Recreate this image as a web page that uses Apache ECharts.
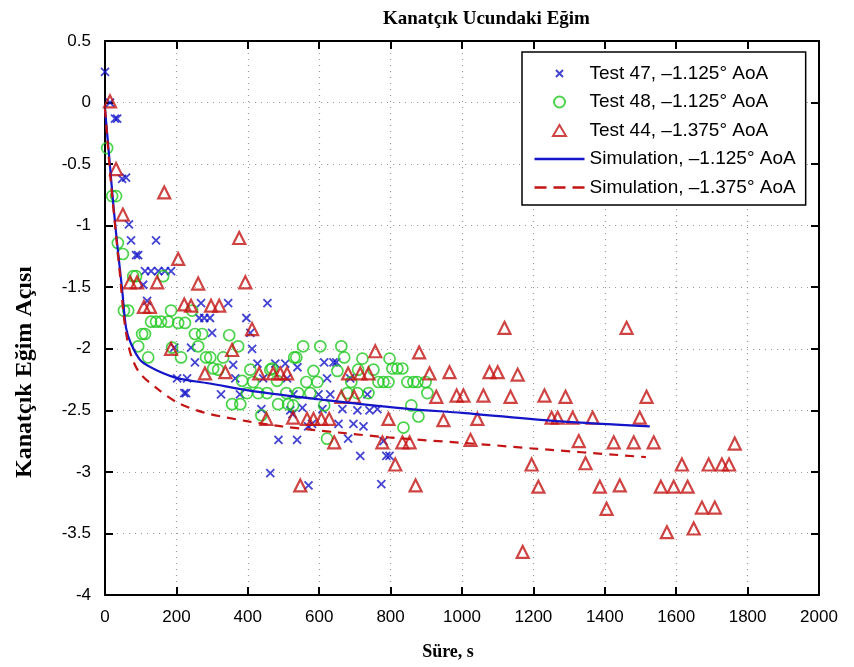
<!DOCTYPE html>
<html>
<head>
<meta charset="utf-8">
<script src="https://cdn.jsdelivr.net/npm/echarts@6/dist/echarts.min.js"></script>
<style>
  html, body { margin: 0; padding: 0; background: #fff; }
  #chart { width: 854px; height: 667px; }
</style>
</head>
<body>
<div id="chart"></div>
<script>
// Test 47, -1.125 AoA (blue crosses)
var test47 = [[0,0.25],[14,0],[28,-0.13],[34,-0.13],[48,-0.62],[59,-0.61],[67,-0.99],[73,-1.12],[143,-1.12],[87,-1.24],[93,-1.24],
  [112,-1.37],[129,-1.37],[149,-1.37],[168,-1.37],[185,-1.37],[107,-1.48],[118,-1.61],[269,-1.63],[345,-1.63],[455,-1.63],
  [264,-1.75],[278,-1.75],[294,-1.75],[396,-1.75],[300,-1.87],[407,-1.87],[194,-1.99],[241,-1.99],[412,-2.0],[252,-2.11],
  [359,-2.13],[427,-2.12],[477,-2.12],[505,-2.12],[202,-2.24],[230,-2.24],[365,-2.24],[222,-2.36],[227,-2.36],[325,-2.37],
  [378,-2.37],[438,-2.49],[525,-2.53],[614,-2.11],[640,-2.11],[648,-2.11],[539,-2.15],[622,-2.24],[443,-2.24],[510,-2.24],
  [687,-2.24],[598,-2.37],[631,-2.37],[528,-2.37],[735,-2.37],[553,-2.48],[609,-2.49],[665,-2.49],[707,-2.5],[741,-2.5],
  [763,-2.49],[519,-2.5],[580,-2.61],[654,-2.61],[696,-2.61],[724,-2.63],[569,-2.63],[486,-2.74],[538,-2.74],[681,-2.73],
  [780,-2.75],[715,-2.87],[788,-2.87],[797,-2.87],[463,-3.01],[570,-3.11],[774,-3.1]];

// Test 48, -1.125 AoA (green circles)
var test48 = [[6,-0.37],[20,-0.76],[31,-0.76],[36,-1.14],[50,-1.23],[79,-1.41],[87,-1.41],[163,-1.41],[53,-1.69],[65,-1.69],
  [185,-1.69],[244,-1.69],[129,-1.78],[143,-1.78],[157,-1.78],[177,-1.78],[205,-1.79],[224,-1.79],[104,-1.88],[112,-1.88],
  [252,-1.88],[272,-1.88],[348,-1.89],[93,-1.98],[188,-1.99],[261,-1.98],[373,-1.98],[121,-2.07],[213,-2.07],[283,-2.07],
  [295,-2.07],[331,-2.07],[303,-2.16],[317,-2.17],[407,-2.17],[468,-2.16],[384,-2.26],[415,-2.27],[482,-2.26],[398,-2.36],
  [429,-2.36],[454,-2.36],[356,-2.45],[379,-2.45],[485,-2.45],[513,-2.45],[438,-2.54],[530,-2.07],[555,-1.98],[603,-1.98],
  [662,-1.98],[536,-2.07],[670,-2.07],[721,-2.08],[797,-2.08],[463,-2.17],[584,-2.18],[651,-2.18],[709,-2.17],[752,-2.17],
  [805,-2.16],[819,-2.16],[833,-2.16],[564,-2.27],[595,-2.27],[690,-2.27],[766,-2.27],[780,-2.27],[794,-2.27],[847,-2.27],
  [864,-2.27],[875,-2.27],[898,-2.27],[508,-2.36],[541,-2.36],[575,-2.36],[679,-2.36],[707,-2.36],[738,-2.36],[903,-2.36],
  [527,-2.46],[614,-2.46],[858,-2.46],[878,-2.55],[836,-2.64],[622,-2.73]];

// Test 44, -1.375 AoA (red triangles)
var test44 = [[14,0.01],[31,-0.54],[50,-0.91],[166,-0.73],[70,-1.46],[90,-1.46],[146,-1.46],[205,-1.27],[261,-1.47],[376,-1.10],
  [393,-1.46],[109,-1.66],[126,-1.66],[222,-1.64],[241,-1.65],[297,-1.65],[320,-1.65],[412,-1.84],[185,-2.0],[356,-2.01],
  [280,-2.2],[337,-2.19],[432,-2.2],[471,-2.2],[491,-2.2],[510,-2.2],[681,-2.2],[715,-2.2],[738,-2.2],[757,-2.02],[880,-2.03],
  [662,-2.39],[698,-2.39],[452,-2.57],[527,-2.56],[566,-2.57],[584,-2.57],[606,-2.57],[628,-2.57],[794,-2.57],[642,-2.76],
  [777,-2.76],[833,-2.76],[853,-2.76],[813,-2.94],[547,-3.11],[870,-3.11],[1119,-1.83],[909,-2.2],[965,-2.19],[1077,-2.19],
  [1100,-2.19],[1156,-2.21],[928,-2.39],[985,-2.38],[1004,-2.38],[1060,-2.38],[1136,-2.39],[1231,-2.38],[948,-2.58],
  [1043,-2.57],[1251,-2.56],[1268,-2.56],[1024,-2.74],[1195,-2.94],[1214,-3.12],[1170,-3.65],[1461,-1.83],[1290,-2.39],
  [1517,-2.39],[1310,-2.56],[1366,-2.56],[1498,-2.56],[1327,-2.75],[1425,-2.76],[1481,-2.76],[1537,-2.76],[1764,-2.77],
  [1346,-2.93],[1616,-2.94],[1691,-2.94],[1728,-2.94],[1748,-2.94],[1386,-3.12],[1442,-3.11],[1557,-3.12],[1593,-3.12],
  [1632,-3.12],[1405,-3.30],[1672,-3.29],[1708,-3.29],[1574,-3.49],[1649,-3.46]];

// simulation curves
var sim1125 = [[0,-0.05],[12,-0.45],[24,-0.85],[36,-1.2],[48,-1.52],[59,-1.83],[73,-1.96],[101,-2.1],[149,-2.18],[205,-2.24],
  [289,-2.28],[429,-2.35],[600,-2.41],[856,-2.49],[1000,-2.52],[1276,-2.59],[1526,-2.63]];
var sim1375 = [[0,-0.05],[15,-0.6],[30,-1.05],[42,-1.4],[52,-1.72],[62,-1.92],[75,-2.07],[98,-2.2],[149,-2.33],[205,-2.44],
  [280,-2.52],[401,-2.59],[496,-2.63],[654,-2.68],[794,-2.72],[1074,-2.78],[1198,-2.81],[1515,-2.88]];

var names = ['Test 47, \u20131.125\u00b0 AoA', 'Test 48, \u20131.125\u00b0 AoA', 'Test 44, \u20131.375\u00b0 AoA',
  'Simulation, \u20131.125\u00b0 AoA', 'Simulation, \u20131.375\u00b0 AoA'];

var BLUE = '#1414c8', GREEN = '#1ec81e', RED = '#c41414';
var crossPath = 'path://M0,0L10,10M10,0L0,10';
var serif = '"Liberation Serif", "DejaVu Serif", serif';
var sans = '"Liberation Sans", Arial, sans-serif';

// legend icons: 50x12 boxes, marker centred (tiny corner dots fix the bbox)
var box = 'M0,0L0.001,0M49.999,12L50,12';
var iconCross = 'path://' + box + 'M21.5,2.5L28.5,9.5M28.5,2.5L21.5,9.5';
var iconCircle = 'path://' + box + 'M19.5,6A5.5,5.5 0 1,1 30.5,6A5.5,5.5 0 1,1 19.5,6Z';
var iconTri = 'path://' + box + 'M25,0.5L31.5,11.5L18.5,11.5Z';
var iconLine = 'path://' + box + 'M0,6L50,6';

var chart = echarts.init(document.getElementById('chart'), null, { renderer: 'canvas' });

var tickStyle = { show: true, inside: true, length: 8, lineStyle: { color: '#000', width: 2 } };
var gridLine = { show: true, lineStyle: { color: '#9a9a9a', type: [1, 5], width: 1.2 } };
var frameLine = { show: true, onZero: false, lineStyle: { color: '#000', width: 2 } };

var option = {
  backgroundColor: '#fff',
  animation: false,
  title: {
    text: 'Kanatçık Ucundaki Eğim',
    left: 378, top: 5,
    textStyle: { fontFamily: serif, fontWeight: 'bold', fontSize: 19, color: '#000' }
  },
  // axis titles, placed as in the original figure
  graphic: [
    {
      type: 'text', x: 25, y: 372, rotation: Math.PI / 2,
      style: { text: 'Kanatçık Eğim Açısı', fill: '#000', font: 'bold 24px ' + serif, align: 'center', verticalAlign: 'middle' }
    },
    {
      type: 'text', x: 448, y: 652,
      style: { text: 'Süre, s', fill: '#000', font: 'bold 18px ' + serif, align: 'center', verticalAlign: 'middle' }
    }
  ],
  grid: { left: 105, right: 35, top: 41, bottom: 72, containLabel: false },
  legend: {
    orient: 'vertical',
    left: 522, top: 52,
    itemWidth: 50, itemHeight: 12, itemGap: 9.5,
    padding: [12, 10, 8, 10],
    borderColor: '#000', borderWidth: 1.5, backgroundColor: '#fff',
    textStyle: { fontFamily: sans, fontSize: 19, color: '#000' },
    data: [
      { name: names[0], icon: iconCross, itemStyle: { color: 'none', borderColor: BLUE, borderWidth: 2 } },
      { name: names[1], icon: iconCircle, itemStyle: { color: 'none', borderColor: GREEN, borderWidth: 2 } },
      { name: names[2], icon: iconTri, itemStyle: { color: 'none', borderColor: RED, borderWidth: 2 } },
      { name: names[3], icon: iconLine, itemStyle: { color: 'none', borderColor: BLUE, borderWidth: 2.5 } },
      { name: names[4], icon: iconLine, itemStyle: { color: 'none', borderColor: RED, borderWidth: 2.5, borderType: [12, 7] } }
    ]
  },
  xAxis: [{
    type: 'value', min: 0, max: 2000, interval: 200,
    axisLine: frameLine,
    axisTick: tickStyle,
    axisLabel: { fontFamily: sans, fontSize: 17, color: '#000', margin: 14, formatter: function (v) { return String(v); } },
    splitLine: gridLine
  }, {
    type: 'value', min: 0, max: 2000, interval: 200, position: 'top',
    axisLine: frameLine,
    axisTick: tickStyle, axisLabel: { show: false }, splitLine: { show: false }
  }],
  yAxis: [{
    type: 'value', min: -4, max: 0.5, interval: 0.5,
    axisLine: frameLine,
    axisTick: tickStyle,
    axisLabel: { fontFamily: sans, fontSize: 17, color: '#000', margin: 14 },
    splitLine: gridLine
  }, {
    type: 'value', min: -4, max: 0.5, interval: 0.5, position: 'right',
    axisLine: frameLine,
    axisTick: tickStyle, axisLabel: { show: false }, splitLine: { show: false }
  }],
  series: [
    {
      name: names[0], type: 'scatter', data: test47, symbol: crossPath, symbolSize: 8,
      itemStyle: { color: 'none', borderColor: BLUE, borderWidth: 1.8 }
    },
    {
      name: names[1], type: 'scatter', data: test48, symbol: 'circle', symbolSize: 11,
      itemStyle: { color: 'none', borderColor: GREEN, borderWidth: 1.7 }
    },
    {
      name: names[2], type: 'scatter', data: test44, symbol: 'triangle', symbolSize: 12,
      itemStyle: { color: 'none', borderColor: RED, borderWidth: 2.2 }
    },
    {
      name: names[3], type: 'line', data: sim1125, symbol: 'none', smooth: 0.3,
      lineStyle: { color: BLUE, width: 2.2 }, itemStyle: { color: BLUE }
    },
    {
      name: names[4], type: 'line', data: sim1375, symbol: 'none', smooth: 0.3,
      lineStyle: { color: RED, width: 2.2, type: [9, 7] }, itemStyle: { color: RED }
    }
  ]
};

chart.setOption(option);
window.addEventListener('resize', function () { chart.resize(); });
</script>
</body>
</html>
